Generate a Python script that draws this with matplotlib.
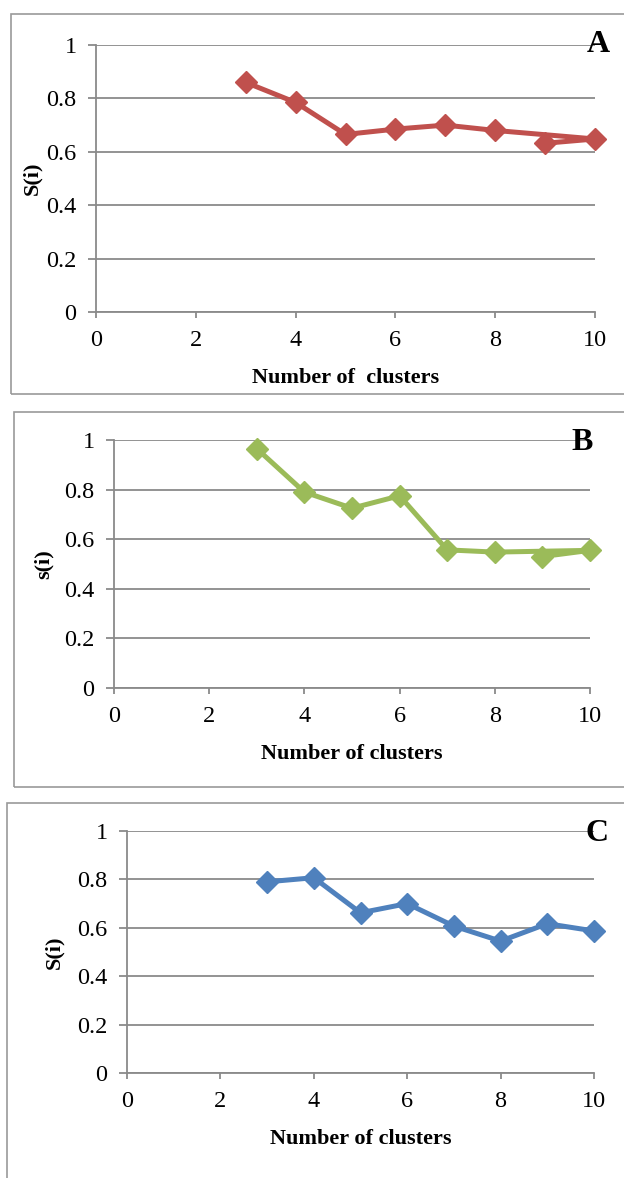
import matplotlib.pyplot as plt
from matplotlib.patches import Rectangle

# cluster counts and silhouette values
# (A and B were entered with 10 before 9, hence the crossing segment)
x_a = [3, 4, 5, 6, 7, 8, 10, 9]
s_a = [0.86, 0.785, 0.665, 0.685, 0.70, 0.68, 0.648, 0.632]

x_b = [3, 4, 5, 6, 7, 8, 10, 9]
s_b = [0.965, 0.79, 0.725, 0.775, 0.557, 0.548, 0.555, 0.53]

x_c = [3, 4, 5, 6, 7, 8, 9, 10]
s_c = [0.79, 0.807, 0.662, 0.70, 0.607, 0.545, 0.617, 0.587]

x_ticks = [0, 2, 4, 6, 8, 10]
y_ticks = [0, 0.2, 0.4, 0.6, 0.8, 1.0]
y_ticklabels = ['0', '0.2', '0.4', '0.6', '0.8', '1']

plt.rcParams['font.family'] = ['Liberation Serif', 'DejaVu Serif']

W, H = 624, 1178
fig = plt.figure(figsize=(W / 100, H / 100), dpi=100)


def px_axes(left, top, right, bottom):
    return [left / W, 1 - bottom / H, (right - left) / W, (bottom - top) / H]


def frame(left, top, right, bottom):
    r = Rectangle((left / W, 1 - bottom / H), (right - left) / W, (bottom - top) / H,
                  transform=fig.transFigure, fill=False, edgecolor='#9a9a9a', linewidth=1.2)
    fig.add_artist(r)


grid_col = '#8a8a8a'

panels = [
    # data, colour, ylabel, letter, axes px box, frame px box, label coords, letter pos
    (x_a, s_a, '#C0504D', 'S(i)', 'A', (96, 45, 595, 312), (11, 14, 640, 394),
     (-0.128, -0.247), (1.006, 1.003), 'Number of  clusters'),
    (x_b, s_b, '#9BBB59', 's(i)', 'B', (114, 440, 590, 688), (14, 412, 640, 787),
     (-0.147, -0.266), (0.983, 0.99), 'Number of clusters'),
    (x_c, s_c, '#4F81BD', 'S(i)', 'C', (127, 831, 594, 1073), (7, 803, 640, 1200),
     (-0.156, -0.273), (1.006, 0.99), 'Number of clusters'),
]

for xs, ys, col, ylab, letter, box, fbox, lab_xy, let_xy, xlab in panels:
    frame(*fbox)
    ax = fig.add_axes(px_axes(*box))
    ax.plot(xs, ys, color=col, linewidth=3.6, marker='D', markersize=11,
            clip_on=False, zorder=3)
    ax.set_xlim(0, 10)
    ax.set_ylim(0, 1)
    ax.set_xticks(x_ticks)
    ax.set_yticks(y_ticks)
    ax.set_yticklabels(y_ticklabels)
    ax.yaxis.grid(True, color=grid_col, linewidth=1.3)
    ax.set_axisbelow(True)
    for sp in ['top', 'right']:
        ax.spines[sp].set_visible(False)
    for sp in ['left', 'bottom']:
        ax.spines[sp].set_color(grid_col)
        ax.spines[sp].set_linewidth(1.3)
    ax.tick_params(axis='y', length=6, width=1.3, color=grid_col, pad=8, labelsize=17.5)
    ax.tick_params(axis='x', length=4, width=1.3, color=grid_col, pad=9, labelsize=17.5)

    ax.set_xlabel(xlab, fontsize=16, fontweight='bold')
    ax.xaxis.label.set_va('center')
    ax.xaxis.set_label_coords(0.5, lab_xy[1])
    ax.set_ylabel(ylab, fontsize=16, fontweight='bold')
    ax.yaxis.label.set_va('center')
    ax.yaxis.set_label_coords(lab_xy[0], 0.5)

    ax.text(let_xy[0], let_xy[1], letter, transform=ax.transAxes, ha='center', va='center',
            fontsize=23, fontweight='bold')

fig.savefig('out.png', dpi=100)
